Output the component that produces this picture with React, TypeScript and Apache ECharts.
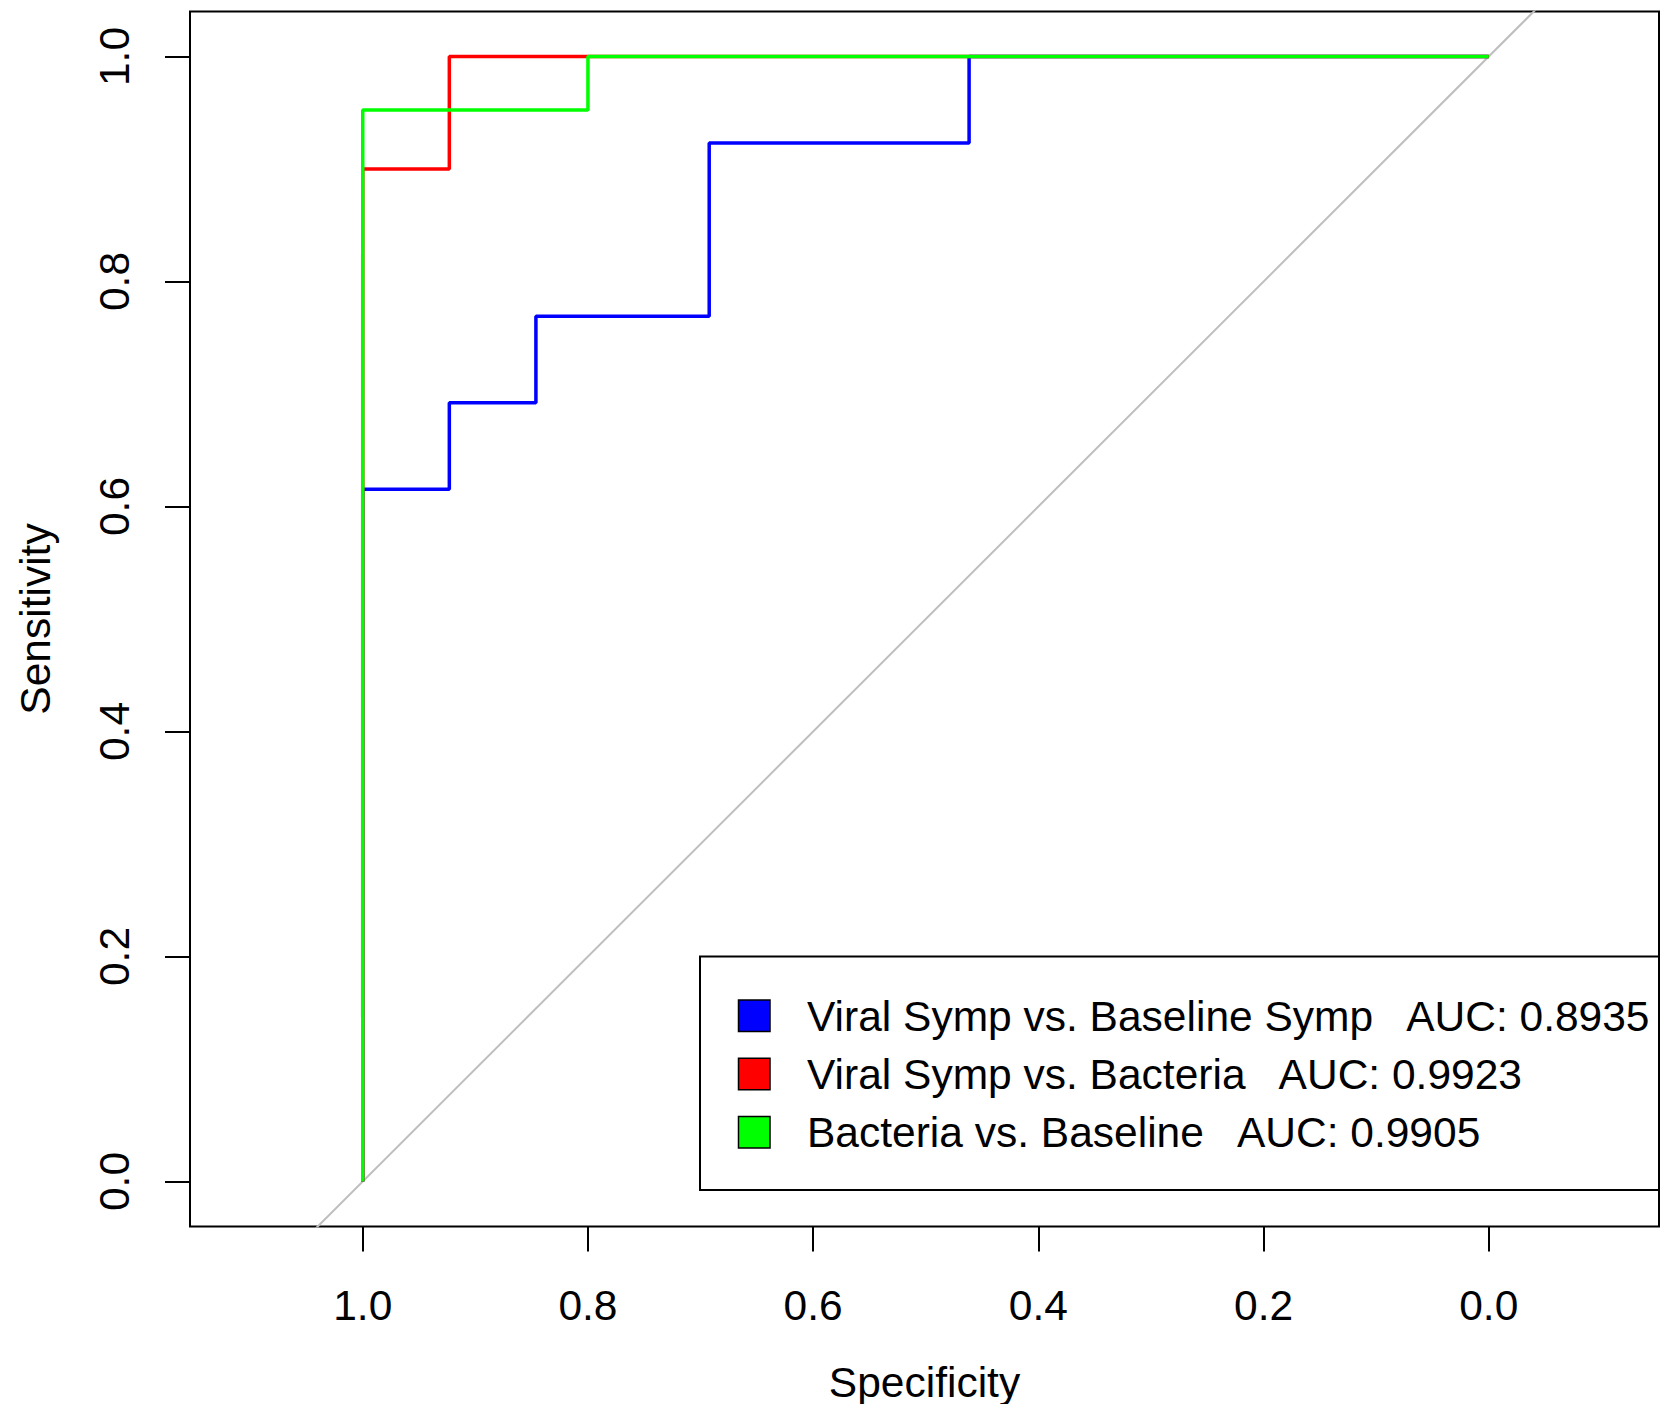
import React, { useEffect, useRef } from "react";
import * as echarts from "echarts";

// ---- data ----
const tickValues = [0, 0.2, 0.4, 0.6, 0.8, 1.0];

const viralBaselineSpec = [1, 1, 0.9231, 0.9231, 0.8462, 0.8462, 0.6923, 0.6923, 0.4615, 0.4615, 0];
const viralBaselineSens = [0, 0.6154, 0.6154, 0.6923, 0.6923, 0.7692, 0.7692, 0.9231, 0.9231, 1, 1];

const viralBacteriaSpec = [1, 1, 0.9231, 0.9231, 0];
const viralBacteriaSens = [0, 0.9, 0.9, 1, 1];

const bacteriaBaselineSpec = [1, 1, 0.8, 0.8, 0];
const bacteriaBaselineSens = [0, 0.9524, 0.9524, 1, 1];

const diagonalSpec = [1.2, -0.2];
const diagonalSens = [-0.2, 1.2];

const curveNames = [
  "Viral Symp vs. Baseline Symp",
  "Viral Symp vs. Bacteria",
  "Bacteria vs. Baseline",
];
const aucValues = ["0.8935", "0.9923", "0.9905"];
const curveColors = ["#0000ff", "#ff0000", "#00ff00"];

const FONT = '"Liberation Sans", Arial, Helvetica, sans-serif';

function pairs(xs: number[], ys: number[]) {
  return xs.map((x, i) => [x, ys[i]]);
}

export default function App() {
  const ref = useRef<HTMLDivElement>(null);

  useEffect(() => {
    document.body.style.margin = "0";
    if (!ref.current) return;
    const chart = echarts.init(ref.current, undefined, { renderer: "svg" });

    const curves = [
      pairs(viralBaselineSpec, viralBaselineSens),
      pairs(viralBacteriaSpec, viralBacteriaSens),
      pairs(bacteriaBaselineSpec, bacteriaBaselineSens),
    ];

    const legendLeft = 700;
    const legendTop = 956.5;
    const rowGap = 58.3;
    const firstRowCenter = 1016;

    const legendGraphics: any[] = [
      {
        type: "rect",
        shape: { x: legendLeft, y: legendTop, width: 1659 - legendLeft, height: 1190 - legendTop },
        style: { fill: "#fff", stroke: "#000", lineWidth: 2 },
        z: 100,
      },
    ];
    curveNames.forEach((name, i) => {
      const cy = firstRowCenter + i * rowGap;
      legendGraphics.push({
        type: "rect",
        shape: { x: 738.5, y: cy - 16, width: 31.5, height: 31.5 },
        style: { fill: curveColors[i], stroke: "#000", lineWidth: 1.5 },
        z: 101,
      });
      legendGraphics.push({
        type: "text",
        x: 807,
        y: cy,
        style: {
          text: `${name}   AUC: ${aucValues[i]}`,
          fontSize: 42.5,
          fontFamily: FONT,
          fill: "#000",
          align: "left",
          verticalAlign: "middle",
        },
        z: 101,
      });
    });

    chart.setOption({
      animation: false,
      backgroundColor: "#fff",
      grid: {
        left: 190,
        top: 11.5,
        right: 1,
        bottom: 177.5,
        show: true,
        borderColor: "#000",
        borderWidth: 2,
        backgroundColor: "transparent",
        containLabel: false,
        outerBoundsMode: "none",
      },
      xAxis: {
        type: "value",
        inverse: true,
        min: -0.1512,
        max: 1.1534,
        position: "bottom",
        axisLine: { show: false, onZero: false },
        splitLine: { show: false },
        axisTick: {
          show: true,
          inside: false,
          length: 25,
          customValues: tickValues,
          lineStyle: { color: "#000", width: 2 },
        },
        axisLabel: {
          customValues: tickValues,
          formatter: (v: number) => v.toFixed(1),
          margin: 57.5,
          fontSize: 42.5,
          fontFamily: FONT,
          color: "#000",
        },
        name: "Specificity",
        nameLocation: "middle",
        nameGap: 134,
        nameTextStyle: { fontSize: 42.5, fontFamily: FONT, color: "#000" },
      },
      yAxis: {
        type: "value",
        min: -0.04,
        max: 1.04,
        position: "left",
        axisLine: { show: false, onZero: false },
        splitLine: { show: false },
        axisTick: {
          show: true,
          inside: false,
          length: 25,
          customValues: tickValues,
          lineStyle: { color: "#000", width: 2 },
        },
        axisLabel: {
          customValues: tickValues,
          formatter: (v: number) => v.toFixed(1),
          rotate: 90,
          margin: 54.5,
          fontSize: 42.5,
          fontFamily: FONT,
          color: "#000",
        },
        name: "Sensitivity",
        nameLocation: "middle",
        nameRotate: 90,
        nameGap: 133.5,
        nameTextStyle: { fontSize: 42.5, fontFamily: FONT, color: "#000" },
      },
      series: [
        {
          type: "line",
          name: "diagonal",
          data: pairs(diagonalSpec, diagonalSens),
          symbol: "none",
          clip: true,
          lineStyle: { color: "#bebebe", width: 2 },
          z: 1,
        },
        ...curves.map((d, i) => ({
          type: "line",
          name: curveNames[i],
          data: d,
          symbol: "none",
          clip: true,
          lineStyle: { color: curveColors[i], width: 3.5 },
          z: 2 + i,
        })),
      ],
      graphic: legendGraphics,
    });

    return () => chart.dispose();
  }, []);

  return <div ref={ref} style={{ width: 1660, height: 1404 }} />;
}
